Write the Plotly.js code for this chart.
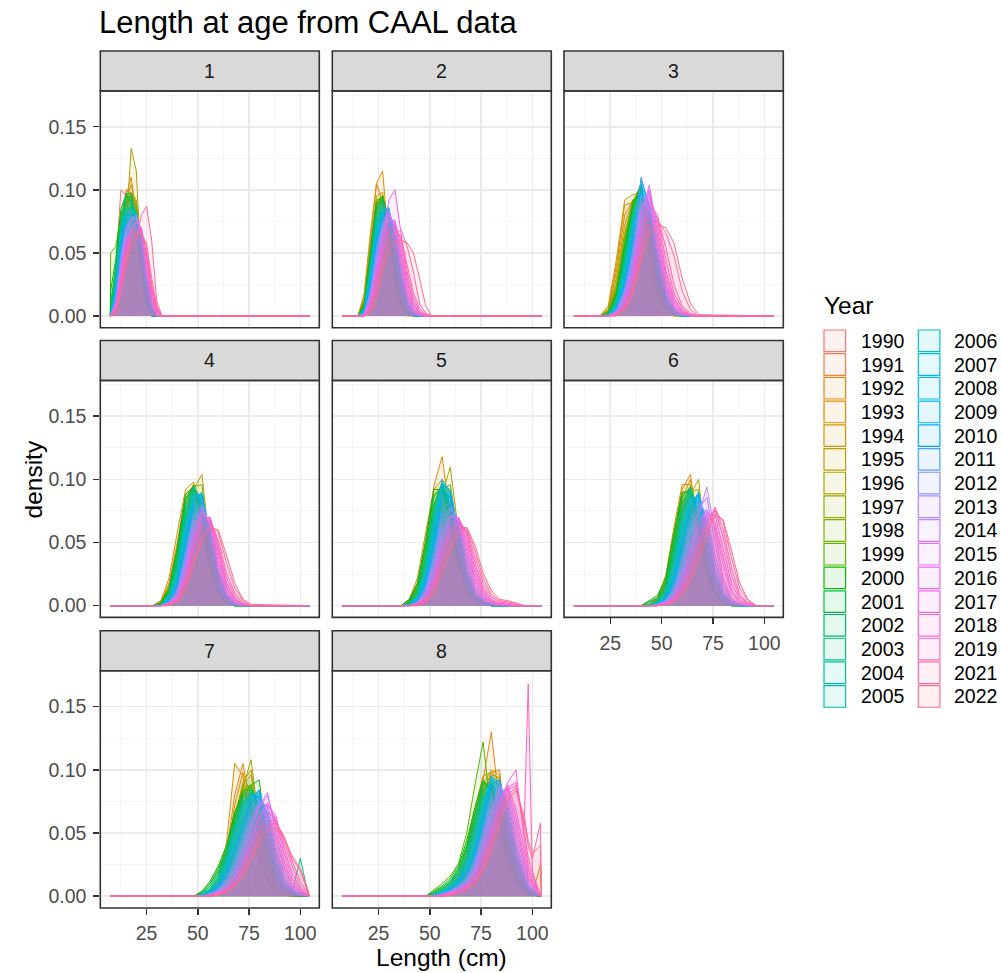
<!DOCTYPE html>
<html>
<head>
<meta charset="utf-8">
<script src="https://cdn.plot.ly/plotly-3.0.1.min.js"></script>
<style>html,body{margin:0;padding:0;background:#fff;}#plot{width:1002px;height:973px;}</style>
</head>
<body>
<div id="plot"></div>
<script>
// ---------------- DATA ----------------
// Years (fill/colour groups)
const years = [1990,1991,1992,1993,1994,1995,1996,1997,1998,1999,2000,2001,2002,2003,2004,2005,
               2006,2007,2008,2009,2010,2011,2012,2013,2014,2015,2016,2017,2018,2019,2021,2022];
const ages = ["1","2","3","4","5","6","7","8"];
// overall length range of the data (cm)
const X_MIN = 7.3, X_MAX = 104.4;
// Density, in thousandths, at the listed lengths; one row per year (order as `years`)
const age1X = [7.5,10,12.5,15,17.5,20,22.5,25,27.5,30,32.5];
const age1Y = [
[0,40,100,95,85,65,35,10,0,0,0],[0,25,70,100,96,72,38,10,0,0,0],[0,20,65,95,110,80,35,8,0,0,0],
[0,15,60,92,104,85,40,10,0,0,0],[0,18,58,88,98,92,50,12,0,0,0],[0,12,50,90,97,90,55,15,2,0,0],
[0,8,35,70,133,115,35,5,0,0,0],[0,15,55,95,98,85,45,12,0,0,0],[0,20,60,88,95,88,48,14,2,0,0],
[50,55,80,95,92,75,40,10,0,0,0],[20,45,85,96,90,70,35,10,0,0,0],[10,40,78,94,95,72,38,8,0,0,0],
[5,35,75,97,97,78,40,10,0,0,0],[2,30,72,90,92,80,45,12,0,0,0],[0,28,70,85,88,82,50,15,2,0,0],
[0,25,68,84,86,80,52,18,3,0,0],[0,22,65,82,85,82,55,20,4,0,0],[0,20,62,80,84,80,56,22,5,0,0],
[0,18,60,78,82,80,58,24,6,0,0],[0,20,60,80,80,78,58,25,6,0,0],[0,18,55,75,80,78,60,28,8,0,0],
[0,15,50,72,78,78,62,30,8,0,0],[0,12,45,70,78,80,65,32,10,0,0],[0,10,42,68,76,78,66,35,10,0,0],
[0,10,40,65,75,78,68,38,12,0,0],[0,8,35,60,70,75,70,42,14,2,0],[0,8,32,58,68,74,70,45,16,3,0],
[0,6,30,55,66,70,68,48,20,4,0],[0,5,28,52,64,68,66,50,22,5,0],[0,5,25,50,60,66,66,55,25,6,0],
[0,3,18,40,57,60,80,87,60,12,0],[0,2,20,45,60,66,66,57,30,8,0]];
const age2X = [15,18,21,24,27,30,33,36,39,42,45,48,51];
const age2Y = [
[0,5,35,80,88,70,40,15,4,0,0,0,0],[0,8,45,90,92,65,32,12,3,0,0,0,0],[0,15,60,105,90,55,25,8,2,0,0,0,0],
[0,18,65,105,115,58,20,5,0,0,0,0,0],[0,12,55,95,98,65,30,10,2,0,0,0,0],[0,10,48,88,95,72,35,12,3,0,0,0,0],
[0,8,45,85,96,75,38,12,3,0,0,0,0],[0,8,42,82,94,78,40,14,4,0,0,0,0],[0,10,48,88,95,74,36,12,3,0,0,0,0],
[0,12,52,92,94,70,32,10,2,0,0,0,0],[0,10,50,90,95,72,34,10,2,0,0,0,0],[0,8,45,86,93,76,38,12,3,0,0,0,0],
[0,7,42,84,92,78,40,14,3,0,0,0,0],[0,6,40,80,90,80,44,15,4,0,0,0,0],[0,5,36,76,88,82,48,18,5,0,0,0,0],
[0,5,35,74,86,82,50,20,5,0,0,0,0],[0,4,32,72,85,84,52,22,6,0,0,0,0],[0,4,30,70,84,84,55,24,7,1,0,0,0],
[0,3,28,66,82,85,58,26,8,1,0,0,0],[0,3,26,62,80,86,60,28,9,2,0,0,0],[0,3,24,60,78,85,62,30,10,2,0,0,0],
[0,2,20,55,75,84,65,34,12,3,0,0,0],[0,2,18,50,72,84,68,38,14,4,0,0,0],[0,2,16,46,70,82,70,42,16,5,1,0,0],
[0,1,14,42,66,80,72,45,18,6,1,0,0],[0,1,12,38,62,78,74,50,22,8,2,0,0],[0,1,10,34,58,76,76,54,26,10,3,0,0],
[0,0,8,30,60,92,100,65,30,10,2,0,0],[0,0,8,28,52,70,72,60,35,14,4,0,0],[0,0,6,24,48,66,70,62,40,18,6,1,0],
[0,0,4,18,40,58,66,68,55,35,10,2,0],[0,0,3,15,35,52,60,60,58,50,30,8,0]];
const age3X = [20,24,28,32,36,40,44,48,52,56,60,64,68];
const age3Y = [
[0,2,15,45,78,90,70,35,12,3,0,0,0],[0,3,20,55,85,88,62,30,10,2,0,0,0],[0,5,35,80,92,85,50,20,5,1,0,0,0],
[0,8,45,92,96,98,45,15,4,0,0,0,0],[0,6,40,88,90,100,55,18,4,0,0,0,0],[0,4,30,72,92,95,60,22,6,1,0,0,0],
[0,3,25,65,90,97,64,25,7,1,0,0,0],[0,3,22,62,88,100,66,26,7,1,0,0,0],[0,4,24,64,92,98,62,24,6,1,0,0,0],
[0,3,20,58,90,104,65,25,6,1,0,0,0],[0,2,18,55,88,105,68,26,7,1,0,0,0],[0,2,16,52,86,102,70,28,8,1,0,0,0],
[0,2,14,48,84,100,72,30,8,2,0,0,0],[0,1,12,45,80,98,75,32,9,2,0,0,0],[0,1,11,42,78,96,76,34,10,2,0,0,0],
[0,1,10,40,76,96,78,36,10,2,0,0,0],[0,1,9,36,72,96,80,38,12,3,0,0,0],[0,1,8,34,70,98,82,40,12,3,0,0,0],
[0,1,7,30,66,100,84,42,14,3,0,0,0],[0,0,6,28,62,104,86,44,15,4,0,0,0],[0,0,5,25,58,108,88,46,16,4,1,0,0],
[0,0,5,22,55,110,86,48,18,5,1,0,0],[0,0,4,20,50,95,90,52,20,6,1,0,0],[0,0,3,18,46,88,96,56,22,7,2,0,0],
[0,0,3,16,42,84,100,60,25,8,2,0,0],[0,0,2,14,38,78,104,64,28,10,3,0,0],[0,0,2,12,34,72,100,70,32,12,3,0,0],
[0,0,2,10,30,66,94,76,36,14,4,1,0],[0,0,1,8,26,60,88,80,45,18,6,1,0],[0,0,1,7,22,54,80,78,55,25,8,2,0],
[0,0,1,6,20,48,72,76,66,48,20,5,0],[0,0,0,5,18,44,66,72,70,58,30,10,1]];
const age4X = [28,32,36,40,44,48,52,56,60,64,68,72,76];
const age4Y = [
[0,1,6,22,55,85,80,50,22,8,2,0,0],[0,2,10,30,65,88,75,42,18,6,1,0,0],[0,3,18,50,88,95,65,30,10,3,0,0,0],
[0,4,22,58,92,98,60,26,8,2,0,0,0],[0,3,16,45,84,96,70,32,10,3,0,0,0],[0,2,12,38,75,95,82,38,12,3,0,0,0],
[0,2,10,32,68,92,104,45,14,4,1,0,0],[0,2,10,34,70,94,96,44,14,4,1,0,0],[0,2,12,40,80,96,80,38,12,3,0,0,0],
[0,2,14,45,85,95,72,34,10,3,0,0,0],[0,2,14,46,88,94,70,32,10,2,0,0,0],[0,1,12,42,84,95,74,36,11,3,0,0,0],
[0,1,10,38,80,94,78,38,12,3,0,0,0],[0,1,9,34,76,94,82,40,13,3,0,0,0],[0,1,8,30,72,92,84,44,14,4,0,0,0],
[0,1,7,28,68,90,86,46,15,4,1,0,0],[0,1,6,25,64,88,88,48,16,4,1,0,0],[0,0,5,22,60,86,88,50,18,5,1,0,0],
[0,0,5,20,56,84,90,52,20,6,1,0,0],[0,0,4,18,52,82,88,55,22,6,1,0,0],[0,0,4,16,48,78,86,58,24,7,2,0,0],
[0,0,3,14,44,74,84,60,26,8,2,0,0],[0,0,3,12,40,70,80,62,28,9,2,0,0],[0,0,2,10,36,66,78,64,30,10,3,0,0],
[0,0,2,9,32,62,76,66,34,12,3,0,0],[0,0,2,8,28,58,74,68,38,14,4,1,0],[0,0,1,7,25,54,72,68,42,16,5,1,0],
[0,0,1,6,22,50,70,70,45,18,6,1,0],[0,0,1,5,20,46,66,70,48,22,8,2,0],[0,0,1,4,18,42,62,68,52,26,10,2,0],
[0,0,0,3,14,36,56,64,58,34,14,4,0],[0,0,0,3,12,32,52,62,60,40,18,5,1]];
const age5X = [36,40,44,48,52,56,60,64,68,72,76,80,84,88,92,96];
const age5Y = [
[0,2,8,25,55,80,75,50,25,10,3,1,0,0,0,0],[0,3,12,35,68,85,70,42,20,8,2,0,0,0,0,0],
[0,4,18,50,95,118,70,32,12,4,1,0,0,0,0,0],[0,5,22,58,92,100,62,28,10,3,1,0,0,0,0,0],
[0,4,16,45,80,98,75,38,14,4,1,0,0,0,0,0],[0,3,12,36,70,95,90,48,18,6,2,0,0,0,0,0],
[0,2,10,30,62,88,110,58,22,7,2,0,0,0,0,0],[0,2,10,32,66,92,96,54,20,7,2,0,0,0,0,0],
[0,3,14,40,78,96,80,44,16,5,1,0,0,0,0,0],[0,4,16,48,88,94,72,38,14,4,1,0,0,0,0,0],
[0,5,18,52,92,92,68,34,12,4,1,0,0,0,0,0],[0,3,14,46,86,94,74,38,14,4,1,0,0,0,0,0],
[0,2,12,40,80,95,78,42,15,5,1,0,0,0,0,0],[0,2,10,36,76,96,80,44,16,5,1,0,0,0,0,0],
[0,1,8,32,72,96,84,46,18,6,2,0,0,0,0,0],[0,1,8,30,68,94,86,48,19,6,2,0,0,0,0,0],
[0,1,7,26,64,98,88,50,20,7,2,0,0,0,0,0],[0,1,6,24,60,100,90,52,22,7,2,0,0,0,0,0],
[0,1,5,22,56,96,92,56,24,8,2,1,0,0,0,0],[0,1,4,20,52,90,88,58,26,9,3,1,0,0,0,0],
[0,0,4,18,48,84,86,60,28,10,3,1,0,0,0,0],[0,0,3,15,42,76,82,64,32,12,4,1,0,0,0,0],
[0,0,3,13,38,70,78,66,36,14,5,1,0,0,0,0],[0,0,2,11,34,64,76,68,40,16,6,2,1,0,0,0],
[0,0,2,10,30,58,72,68,44,20,7,2,1,1,0,0],[0,0,2,8,26,54,70,70,48,22,8,3,1,0,0,0],
[0,0,1,7,22,48,66,70,52,26,10,3,1,0,0,0],[0,0,1,6,20,44,62,70,56,30,12,4,1,0,0,0],
[0,0,1,5,18,40,58,68,58,34,14,5,2,1,0,0],[0,0,1,4,15,36,54,66,60,38,18,7,3,2,1,0],
[0,0,0,3,12,30,48,62,62,44,22,9,4,3,2,0],[0,0,0,2,10,26,44,58,62,48,26,12,5,4,2,0]];
const age6X = [40,44,48,52,56,60,64,68,72,76,80,84,88,92,96];
const age6Y = [
[0,0,2,8,25,55,75,70,45,20,8,2,0,0,0],[0,1,3,12,35,68,80,62,38,16,6,1,0,0,0],
[0,1,5,20,55,92,104,60,25,8,2,0,0,0,0],[0,1,6,24,62,96,96,55,22,7,2,0,0,0,0],
[0,1,4,18,50,85,100,66,28,9,2,0,0,0,0],[0,1,4,15,44,78,92,76,34,11,3,0,0,0,0],
[0,0,3,12,38,72,88,100,42,14,4,1,0,0,0],[0,0,3,13,40,74,90,92,40,13,4,1,0,0,0],
[0,1,4,16,48,82,94,72,32,10,3,0,0,0,0],[0,3,6,20,55,88,92,66,28,9,2,0,0,0,0],
[0,4,8,22,58,90,90,62,26,8,2,0,0,0,0],[0,3,6,18,52,86,94,68,30,10,3,0,0,0,0],
[0,1,4,15,46,80,94,72,33,11,3,0,0,0,0],[0,1,3,13,42,76,92,76,36,12,3,0,0,0,0],
[0,1,3,11,38,72,90,80,40,14,4,1,0,0,0],[0,0,2,10,34,68,88,82,44,16,5,1,0,0,0],
[0,0,2,9,30,64,86,84,48,18,6,1,0,0,0],[0,0,2,8,27,60,84,86,52,20,6,1,0,0,0],
[0,0,2,7,24,56,82,88,56,22,7,2,0,0,0],[0,0,1,6,21,50,78,90,60,25,8,2,0,0,0],
[0,0,1,5,18,45,74,88,64,28,10,2,0,0,0],[0,0,1,4,15,40,68,84,70,34,12,3,1,0,0],
[0,0,1,4,13,35,62,80,74,40,15,4,1,0,0],[0,0,1,3,11,30,56,76,86,50,18,5,1,0,0],
[0,0,0,3,10,26,50,72,94,58,22,6,1,0,0],[0,0,0,2,8,22,44,66,76,62,32,10,2,0,0],
[0,0,0,2,7,19,40,62,74,66,38,13,3,1,0],[0,0,0,2,6,16,35,56,72,72,46,18,5,1,0],
[0,0,0,1,5,14,30,50,68,76,54,24,7,2,0],[0,0,0,1,4,12,26,46,64,78,60,30,9,2,0],
[0,0,0,1,3,10,22,40,60,76,66,38,14,4,0],[0,0,0,1,3,8,20,36,56,72,68,44,18,5,0]];
const age7X = [48,52,56,60,64,68,72,76,80,84,88,92,96,100,104];
const age7Y = [
[0,0,2,5,15,40,80,75,55,30,12,4,1,0,0],[0,0,3,8,22,55,85,70,45,22,8,2,0,0,0],
[0,1,4,12,35,80,105,68,35,14,4,1,0,0,0],[0,1,5,14,42,105,95,62,30,12,4,1,0,0,0],
[0,1,4,10,30,72,98,80,40,16,5,1,0,0,0],[0,0,3,9,26,62,90,100,50,20,6,2,0,0,0],
[0,0,3,8,24,58,86,108,56,22,7,2,0,0,0],[0,0,3,9,25,60,88,96,54,22,7,2,0,0,0],
[0,1,5,14,32,64,86,88,62,26,8,2,0,0,0],[0,3,10,22,38,66,84,86,64,28,9,3,1,0,0],
[0,4,12,24,40,66,82,88,92,36,12,4,1,0,0],[0,3,10,20,36,62,80,86,70,34,12,4,1,1,0],
[0,2,8,18,34,60,78,84,72,38,14,5,2,3,0],[0,2,6,16,32,56,76,82,74,42,16,6,3,30,0],
[0,1,5,14,30,54,74,82,76,44,18,7,2,1,0],[0,1,5,12,28,52,72,82,78,46,20,7,2,1,0],
[0,1,4,11,26,50,70,80,78,48,22,8,2,1,0],[0,1,4,10,24,46,66,80,80,52,24,9,3,1,0],
[0,0,3,9,22,42,62,78,84,56,26,10,3,1,0],[0,0,3,8,20,38,58,76,84,60,28,11,4,1,0],
[0,0,2,7,17,34,54,74,82,64,32,13,4,1,0],[0,0,2,6,15,30,50,70,80,66,36,15,5,2,0],
[0,0,2,5,13,26,45,64,76,70,40,18,6,2,0],[0,0,1,4,11,22,40,60,74,72,46,22,8,3,0],
[0,0,1,4,10,20,36,56,72,82,50,24,9,3,0],[0,0,1,3,8,17,32,52,70,80,56,28,11,4,0],
[0,0,1,3,7,15,28,46,64,74,60,34,14,5,1],[0,0,1,2,6,13,25,42,60,72,64,38,18,6,1],
[0,0,1,2,5,11,22,38,54,66,62,42,24,8,2],[0,0,0,2,4,10,20,34,50,60,60,46,28,12,2],
[0,0,0,1,4,9,18,30,46,56,58,48,30,20,3],[0,0,0,1,3,8,16,28,42,52,54,46,32,22,4]];
const age8X = [48,52,56,60,64,68,72,76,80,84,88,92,96,98,100,104];
const age8Y = [
[0,0,1,3,8,18,40,70,90,60,30,12,5,3,2,0],[0,0,1,4,10,24,50,78,85,55,26,10,4,2,1,0],
[0,0,2,6,15,35,65,92,130,70,30,10,4,2,1,0],[0,1,2,7,18,40,70,95,98,100,40,14,5,2,1,0],
[0,0,2,5,14,32,60,88,100,96,45,16,6,3,2,0],[0,0,1,4,12,28,55,82,98,92,50,20,8,4,2,25],
[0,0,1,4,11,26,52,80,96,94,54,22,8,4,2,0],[0,0,2,5,14,30,56,84,94,88,50,20,8,3,2,0],
[0,2,5,10,20,38,66,88,90,80,44,18,6,3,2,0],[0,5,10,16,26,50,88,122,65,48,26,10,4,2,1,0],
[0,4,8,14,24,44,70,92,82,62,34,14,5,2,1,0],[0,3,7,12,22,40,66,90,86,66,36,15,5,2,1,0],
[0,2,6,11,20,36,62,86,88,70,40,17,6,3,2,0],[0,2,5,10,18,33,58,82,90,74,44,19,7,3,2,0],
[0,1,4,9,16,30,54,78,90,78,48,22,8,4,2,0],[0,1,4,8,15,28,50,76,90,80,52,24,9,4,3,0],
[0,1,3,7,14,26,46,72,92,84,56,26,10,5,3,0],[0,1,3,7,13,24,42,70,94,86,58,28,11,5,3,0],
[0,1,3,6,12,22,40,66,92,88,62,30,12,6,4,0],[0,0,2,6,11,20,36,62,95,90,64,32,13,6,4,0],
[0,0,2,5,10,18,33,58,88,92,68,36,15,7,5,0],[0,0,2,5,9,16,30,54,82,90,72,40,17,8,5,0],
[0,0,2,4,8,14,27,50,76,88,76,44,20,10,6,0],[0,0,1,4,7,12,24,46,70,86,80,50,24,12,8,0],
[0,0,1,3,6,11,22,42,66,84,84,56,28,14,9,0],[0,0,1,3,5,10,20,38,62,80,86,62,32,16,10,0],
[0,0,1,2,5,9,18,34,56,76,88,68,38,20,12,0],[0,0,1,2,4,8,16,30,52,72,90,100,46,24,14,0],
[0,0,0,2,4,7,14,27,48,68,86,90,52,30,18,0],[0,0,0,2,3,6,12,24,44,64,84,88,56,168,20,0],
[0,0,0,1,3,6,11,22,40,60,80,86,60,40,30,58],[0,0,0,1,3,5,10,20,36,56,76,84,64,44,34,40]];

const knotsByAge = [age1X,age2X,age3X,age4X,age5X,age6X,age7X,age8X];
const densByAge  = [age1Y,age2Y,age3Y,age4Y,age5Y,age6Y,age7Y,age8Y];

// ---------------- COLOURS (ggplot2 default hue palette) ----------------
function hcl2rgb(h, c, l) {
  const hr = h * Math.PI / 180;
  const U = c * Math.cos(hr), V = c * Math.sin(hr);
  const Xn = 95.047, Yn = 100.0, Zn = 108.883;
  const un = 4 * Xn / (Xn + 15 * Yn + 3 * Zn), vn = 9 * Yn / (Xn + 15 * Yn + 3 * Zn);
  const Y = l > 8 ? Yn * Math.pow((l + 16) / 116, 3) : Yn * l / 903.3;
  const u = U / (13 * l) + un, v = V / (13 * l) + vn;
  const X = Y * 9 * u / (4 * v), Z = Y * (12 - 3 * u - 20 * v) / (4 * v);
  const x = X / 100, y = Y / 100, z = Z / 100;
  let rgb = [3.240479 * x - 1.537150 * y - 0.498535 * z,
            -0.969256 * x + 1.875992 * y + 0.041556 * z,
             0.055648 * x - 0.204043 * y + 1.057311 * z];
  return rgb.map(t => {
    t = t <= 0.0031308 ? 12.92 * t : 1.055 * Math.pow(t, 1 / 2.4) - 0.055;
    return Math.round(255 * Math.min(1, Math.max(0, t)));
  });
}
const nY = years.length;
const yearRGB = years.map((_, i) => hcl2rgb(15 + 360 * i / nY, 100, 65));
const col = (i, a) => a === undefined ? `rgb(${yearRGB[i].join(',')})` : `rgba(${yearRGB[i].join(',')},${a})`;

// ---------------- LAYOUT GEOMETRY (pixels) ----------------
const W = 1002, H = 973;
const colPx = [[100.3, 319.3], [332.3, 551.3], [564, 783.3]];
const rowPx = [[91, 327.7], [380.5, 617.4], [670.8, 908]];
const STRIP = 40;
const px2x = p => p / W, px2y = p => 1 - p / H;
const FONT = "Liberation Sans, Arial, Helvetica, sans-serif";

const traces = [];
const layout = {
  width: W, height: H, margin: {l: 0, r: 0, t: 0, b: 0},
  paper_bgcolor: '#fff', plot_bgcolor: '#fff', showlegend: false,
  font: {family: FONT, color: '#000'},
  title: {text: 'Length at age from CAAL data', font: {size: 31, color: '#000', family: FONT},
          x: px2x(99), xanchor: 'left', xref: 'paper', yref: 'container', y: 1 - 22 / H, yanchor: 'middle'},
  shapes: [], annotations: []
};

ages.forEach((age, p) => {
  const c = p % 3, r = Math.floor(p / 3);
  const ax = p + 1;
  const bottomOfCol = (p >= 5);          // panels 6,7,8 show x labels
  const firstCol = (c === 0);
  layout['xaxis' + ax] = {
    domain: [px2x(colPx[c][0]), px2x(colPx[c][1])], anchor: 'y' + ax,
    range: [2.45, 109.25], tick0: 0, dtick: 25, showticklabels: bottomOfCol,
    ticks: bottomOfCol ? 'outside' : '', ticklen: 6, tickwidth: 1.5, tickcolor: '#333333',
    tickfont: {size: 19.5, color: '#4D4D4D', family: FONT}, ticklabelstandoff: 2,
    showgrid: true, gridcolor: '#EBEBEB', gridwidth: 1.6, zeroline: false, showline: false,
    minor: {tick0: 0, dtick: 12.5, showgrid: true, gridcolor: '#F2F2F2', gridwidth: 0.8},
    fixedrange: true
  };
  layout['yaxis' + ax] = {
    domain: [px2y(rowPx[r][1]), px2y(rowPx[r][0])], anchor: 'x' + ax,
    range: [-0.0093, 0.1783], tick0: 0, dtick: 0.05, tickformat: '.2f', showticklabels: firstCol,
    ticks: firstCol ? 'outside' : '', ticklen: 6, tickwidth: 1.5, tickcolor: '#333333',
    tickfont: {size: 19.5, color: '#4D4D4D', family: FONT}, ticklabelstandoff: 3,
    showgrid: true, gridcolor: '#EBEBEB', gridwidth: 1.6, zeroline: false, showline: false,
    minor: {tick0: 0, dtick: 0.025, showgrid: true, gridcolor: '#F2F2F2', gridwidth: 0.8},
    fixedrange: true
  };
  // strip
  layout.shapes.push({type: 'rect', xref: 'paper', yref: 'paper',
    x0: px2x(colPx[c][0]), x1: px2x(colPx[c][1]), y0: px2y(rowPx[r][0]), y1: px2y(rowPx[r][0] - STRIP),
    fillcolor: '#D9D9D9', line: {color: '#333333', width: 1.6}, layer: 'above'});
  layout.annotations.push({xref: 'paper', yref: 'paper', showarrow: false,
    x: px2x((colPx[c][0] + colPx[c][1]) / 2), y: px2y(rowPx[r][0] - STRIP / 2),
    xanchor: 'center', yanchor: 'middle', text: age, font: {size: 19.5, color: '#1A1A1A', family: FONT}});
  // panel border
  layout.shapes.push({type: 'rect', xref: 'paper', yref: 'paper',
    x0: px2x(colPx[c][0]), x1: px2x(colPx[c][1]), y0: px2y(rowPx[r][1]), y1: px2y(rowPx[r][0]),
    fillcolor: 'rgba(0,0,0,0)', line: {color: '#333333', width: 1.6}, layer: 'above'});

  // density curves
  const kx = knotsByAge[p], rows = densByAge[p];
  years.forEach((yr, i) => {
    let xs = kx.slice(), ys = rows[i].map(v => v / 1000);
    if (xs[0] > X_MIN) { xs.unshift(X_MIN); ys.unshift(0); }
    xs.push(X_MAX); ys.push(0);
    traces.push({type: 'scatter', mode: 'lines', x: xs, y: ys, name: String(yr),
      xaxis: 'x' + ax, yaxis: 'y' + ax, fill: 'tozeroy', fillcolor: col(i, 0.1),
      line: {color: col(i), width: 1}, hoverinfo: 'skip', showlegend: false});
  });
});

// axis titles
layout.annotations.push({xref: 'paper', yref: 'paper', showarrow: false, x: px2x(441.8), y: px2y(957),
  xanchor: 'center', yanchor: 'middle', text: 'Length (cm)', font: {size: 24.5, color: '#000', family: FONT}});
layout.annotations.push({xref: 'paper', yref: 'paper', showarrow: false, x: px2x(33), y: px2y(479.5),
  xanchor: 'center', yanchor: 'middle', textangle: -90, text: 'density', font: {size: 24.5, color: '#000', family: FONT}});

// legend (two columns of keys, built from years and colours)
layout.annotations.push({xref: 'paper', yref: 'paper', showarrow: false, x: px2x(822), y: px2y(305),
  xanchor: 'left', yanchor: 'middle', text: 'Year', font: {size: 24.5, color: '#000', family: FONT}});
const perCol = Math.ceil(nY / 2);
const keyX = [824, 918.3], txtX = [859, 951.5], KEY = 21.6, PITCH = 23.71, KEY0 = 330;
years.forEach((yr, i) => {
  const cc = Math.floor(i / perCol), rr = i % perCol;
  const top = KEY0 + rr * PITCH;
  layout.shapes.push({type: 'rect', xref: 'paper', yref: 'paper',
    x0: px2x(keyX[cc]), x1: px2x(keyX[cc] + KEY), y0: px2y(top + KEY), y1: px2y(top),
    fillcolor: col(i, 0.1), line: {color: col(i), width: 1.2}});
  layout.annotations.push({xref: 'paper', yref: 'paper', showarrow: false,
    x: px2x(txtX[cc]), y: px2y(top + KEY / 2), xanchor: 'left', yanchor: 'middle',
    text: String(yr), font: {size: 19.5, color: '#000', family: FONT}});
});

Plotly.newPlot('plot', traces, layout, {staticPlot: true, displayModeBar: false});
</script>
</body>
</html>
